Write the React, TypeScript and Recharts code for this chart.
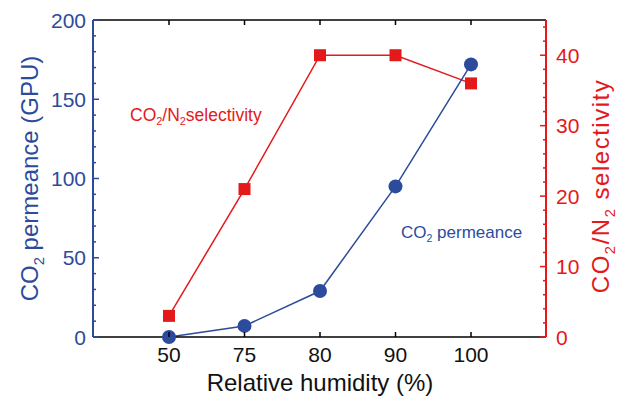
import React from 'react';
import { LineChart, Line, XAxis, YAxis } from 'recharts';

const humidity = ['50', '75', '80', '90', '100'];
const permeance = [0, 7, 29, 95, 172];
const selectivity = [3, 21, 40, 40, 36];

const leftTicks = [0, 10, 20, 30, 40, 50, 60, 70, 80, 90, 100, 110, 120, 130, 140, 150, 160, 170, 180, 190, 200];
const rightTicks = [0, 2, 4, 6, 8, 10, 12, 14, 16, 18, 20, 22, 24, 26, 28, 30, 32, 34, 36, 38, 40, 42, 44];

const BLUE = '#2c4b9d';
const RED = '#e4191c';
const FONT = '"Liberation Sans", Arial, Helvetica, sans-serif';

const data = humidity.map((rh, i) => ({
    rh,
    permeance: permeance[i],
    selectivity: selectivity[i],
}));

const LeftTick = ({ x, y, payload }: any) => {
    const major = payload.value % 50 === 0;
    return (
        <g>
            <line x1={x} y1={y} x2={x + (major ? 6 : 3)} y2={y} stroke={BLUE} strokeWidth={1.5} />
            {major && (
                <text x={x - 7} y={y + 7.5} textAnchor="end" fill={BLUE} fontSize={21} fontFamily={FONT}>
                    {payload.value}
                </text>
            )}
        </g>
    );
};

const RightTick = ({ x, y, payload }: any) => {
    const major = payload.value % 10 === 0;
    return (
        <g>
            <line x1={x} y1={y} x2={x - (major ? 6 : 3)} y2={y} stroke={RED} strokeWidth={1.5} />
            {major && (
                <text x={x + 10} y={y + 7.5} textAnchor="start" fill={RED} fontSize={21} fontFamily={FONT}>
                    {payload.value}
                </text>
            )}
        </g>
    );
};

const BottomTick = ({ x, y, payload }: any) => (
    <g>
        <line x1={x} y1={y} x2={x} y2={y - 5} stroke="#000" strokeWidth={1.5} />
        <text x={x} y={y + 25} textAnchor="middle" fill="#111" fontSize={21} fontFamily={FONT}>
            {payload.value}
        </text>
    </g>
);

const TopTick = ({ x, y }: any) => (
    <line x1={x} y1={y} x2={x} y2={y + 5} stroke="#000" strokeWidth={1.5} />
);

const SquareDot = ({ cx, cy }: any) => (
    <rect x={cx - 6} y={cy - 6} width={12} height={12} fill={RED} />
);

const RoundDot = ({ cx, cy }: any) => <circle cx={cx} cy={cy} r={7} fill={BLUE} />;

// parts: plain strings are normal text, ['2'] arrays are subscripts
const richText = (parts: (string | string[])[], size: number) => {
    const shift = size * 0.25;
    let prevSub = false;
    return parts.map((p, i) => {
        const isSub = Array.isArray(p);
        const dy = isSub ? shift : prevSub ? -shift : 0;
        prevSub = isSub;
        return (
            <tspan key={i} dy={dy || undefined} fontSize={isSub ? size * 0.62 : undefined}>
                {isSub ? p[0] : p}
            </tspan>
        );
    });
};

export default function App() {
    return (
        <div style={{ position: 'absolute', left: 0, top: 0, width: 619, height: 397, fontFamily: FONT }}>
            <LineChart width={619} height={397} data={data} margin={{ top: 0, right: 0, bottom: 0, left: 0 }}>
                <XAxis
                    xAxisId="bottom"
                    dataKey="rh"
                    orientation="bottom"
                    height={60}
                    padding={{ left: 76, right: 75 }}
                    interval={0}
                    tickSize={0}
                    tickMargin={0}
                    tick={<BottomTick />}
                    tickLine={false}
                    axisLine={{ stroke: '#000', strokeWidth: 1.5 }}
                />
                <XAxis
                    xAxisId="top"
                    dataKey="rh"
                    orientation="top"
                    height={20}
                    padding={{ left: 76, right: 75 }}
                    interval={0}
                    tickSize={0}
                    tickMargin={0}
                    tick={<TopTick />}
                    tickLine={false}
                    axisLine={{ stroke: '#000', strokeWidth: 1.5 }}
                />
                <YAxis
                    yAxisId="left"
                    orientation="left"
                    width={93}
                    domain={[0, 200]}
                    ticks={leftTicks}
                    interval={0}
                    tickSize={0}
                    tickMargin={0}
                    tick={<LeftTick />}
                    tickLine={false}
                    axisLine={{ stroke: BLUE, strokeWidth: 2 }}
                />
                <YAxis
                    yAxisId="right"
                    orientation="right"
                    width={73}
                    domain={[0, 45]}
                    ticks={rightTicks}
                    interval={0}
                    tickSize={0}
                    tickMargin={0}
                    tick={<RightTick />}
                    tickLine={false}
                    axisLine={{ stroke: RED, strokeWidth: 2 }}
                />
                <Line
                    xAxisId="bottom"
                    yAxisId="right"
                    dataKey="selectivity"
                    stroke={RED}
                    strokeWidth={1.5}
                    dot={<SquareDot />}
                    activeDot={false}
                    isAnimationActive={false}
                />
                <Line
                    xAxisId="bottom"
                    yAxisId="left"
                    dataKey="permeance"
                    stroke={BLUE}
                    strokeWidth={1.5}
                    dot={<RoundDot />}
                    activeDot={false}
                    isAnimationActive={false}
                />
            </LineChart>
            <svg width={619} height={397} style={{ position: 'absolute', left: 0, top: 0, pointerEvents: 'none' }}>
                <text x={320} y={391} textAnchor="middle" fontSize={24} fill="#111" fontFamily={FONT}>
                    Relative humidity (%)
                </text>
                <text transform="translate(38,178.5) rotate(-90)" textAnchor="middle" fontSize={24} fill={BLUE} fontFamily={FONT}>
                    {richText(['CO', ['2'], ' permeance (GPU)'], 24)}
                </text>
                <text transform="translate(609,186) rotate(-90)" textAnchor="middle" fontSize={24} letterSpacing={1.5} fill={RED} fontFamily={FONT}>
                    {richText(['CO', ['2'], '/N', ['2'], ' selectivity'], 24)}
                </text>
                <text x={130} y={121} fontSize={17.5} fill={RED} fontFamily={FONT}>
                    {richText(['CO', ['2'], '/N', ['2'], 'selectivity'], 17.5)}
                </text>
                <text x={401} y={238} fontSize={17} fill={BLUE} fontFamily={FONT}>
                    {richText(['CO', ['2'], ' permeance'], 17)}
                </text>
            </svg>
        </div>
    );
}
